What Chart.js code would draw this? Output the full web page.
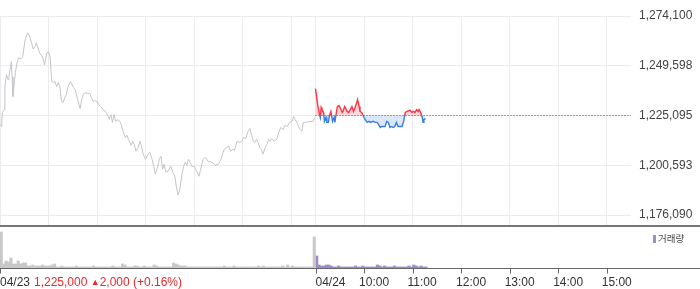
<!DOCTYPE html>
<html>
<head>
<meta charset="utf-8">
<script src="https://cdn.jsdelivr.net/npm/chart.js@4.4.1/dist/chart.umd.min.js"></script>
<style>
  html, body { margin: 0; padding: 0; background: #fff; }
  #wrap { position: relative; width: 700px; height: 289px; overflow: hidden; font-family: "Liberation Sans", Arial, sans-serif; }
  #pricebox { position: absolute; left: 0; top: 0; width: 700px; height: 225px; }
  #sep { position: absolute; left: 0; top: 225px; width: 700px; height: 2px; background: #777; }
  #volbox { position: absolute; left: 0; top: 227px; width: 700px; height: 62px; }
  #quote { position: absolute; left: 34px; top: 275px; font-size: 12px; line-height: 15px; color: #e8282b; white-space: nowrap; }
  #quote .tri { font-size: 9px; position: relative; top: -1px; }
  #vlegend { position: absolute; left: 653px; top: 231px; font-family: "Noto Sans CJK KR", sans-serif; font-size: 9.5px; line-height: 14px; color: #444; }
  #vlegend .sw { display: inline-block; width: 3px; height: 8px; background: #9d8cc9; margin-right: 2px; vertical-align: -1px; }
</style>
</head>
<body>
<div id="wrap">
  <div id="pricebox"><canvas id="price" width="700" height="225"></canvas></div>
  <div id="sep"></div>
  <div id="volbox"><canvas id="vol" width="700" height="62"></canvas></div>
  <div id="quote"></div>
  <div id="vlegend"><span class="sw"></span><span id="vlabel"></span></div>
</div>
<script>
// minutes counted from 04/23 09:00; 04/24 09:00 = 390
const day1Times = [
  0, 2, 3, 5, 6, 8, 10, 11, 14, 15,
  16, 19, 21, 23, 26, 28, 31, 34, 36, 39,
  41, 43, 45, 47, 49, 53, 55, 58, 60, 62,
  64, 66, 68, 70, 72, 74, 76, 78, 80, 82,
  84, 87, 89, 91, 93, 96, 99, 101, 103, 105,
  108, 111, 113, 115, 117, 120, 122, 124, 128, 131,
  134, 135, 137, 139, 141, 143, 146, 149, 152, 155,
  157, 159, 162, 164, 166, 168, 171, 173, 175, 177,
  180, 183, 185, 188, 190, 192, 194, 197, 199, 201,
  203, 205, 208, 211, 213, 216, 218, 220, 222, 225,
  227, 229, 231, 233, 235, 237, 240, 243, 246, 248,
  251, 254, 257, 262, 266, 270, 273, 277, 280, 283,
  285, 288, 290, 293, 296, 299, 301, 304, 306, 309,
  311, 313, 315, 317, 319, 321, 323, 325, 328, 330,
  332, 334, 336, 339, 342, 345, 347, 350, 352, 355,
  358, 361, 363, 365, 367, 369, 371, 373, 375, 378,
  383, 387, 389
];
const day1Prices = [
  1220700, 1219700, 1226600, 1228000, 1239300, 1245200, 1242700, 1244200, 1251600, 1244200,
  1234400, 1246200, 1251100, 1253500, 1253000, 1254000, 1262300, 1265800, 1264800, 1260900,
  1257900, 1258900, 1260900, 1258400, 1256000, 1253500, 1250100, 1256000, 1256500, 1254000,
  1241800, 1241300, 1241800, 1239300, 1241300, 1239300, 1232000, 1231500, 1233900, 1235400,
  1239300, 1241800, 1240300, 1238800, 1237800, 1232900, 1228500, 1232900, 1235400, 1236400,
  1235900, 1235900, 1233900, 1232000, 1232500, 1232000, 1230500, 1229500, 1228000, 1226600,
  1224600, 1223100, 1225600, 1221700, 1225600, 1222200, 1223100, 1221700, 1217300, 1214300,
  1215300, 1213300, 1210400, 1212400, 1210900, 1207500, 1209400, 1212400, 1209900, 1206000,
  1203500, 1206000, 1207000, 1203500, 1200100, 1196200, 1198600, 1203500, 1205000, 1198600,
  1201100, 1197200, 1197700, 1200100, 1197700, 1195200, 1190300, 1185900, 1187900, 1196200,
  1200100, 1202100, 1200600, 1203500, 1202100, 1200100, 1200100, 1197700, 1195200, 1198600,
  1203500, 1204500, 1202600, 1202100, 1200600, 1201100, 1203500, 1208400, 1209400, 1209900,
  1207500, 1208400, 1208000, 1212400, 1211900, 1212400, 1214300, 1213800, 1216800, 1218700,
  1215300, 1212400, 1211900, 1213300, 1211900, 1209400, 1208400, 1206000, 1209400, 1210900,
  1213300, 1212400, 1213800, 1212400, 1213300, 1217300, 1219200, 1218200, 1220200, 1219700,
  1221700, 1222200, 1224600, 1223100, 1221700, 1219700, 1218200, 1217300, 1221700, 1221700,
  1222200, 1222200, 1224100
];
const day2Times = [
  390, 393, 395, 396, 397, 398, 400, 401, 403, 404,
  406, 407, 409, 410, 411, 413, 414, 415, 417, 419,
  421, 423, 424, 426, 429, 431, 433, 435, 437, 439,
  441, 442, 444, 445, 447, 449, 450, 452, 454, 456,
  458, 461, 464, 466, 468, 470, 472, 474, 476, 478,
  480, 482, 484, 486, 488, 490, 492, 494, 497, 499,
  500, 501, 503, 507, 509, 511, 513, 515, 517, 518,
  520, 522, 523, 524, 526
];
const day2Prices = [
  1238300, 1229500, 1225600, 1224100, 1229000, 1228000, 1226600, 1222200, 1224100, 1221700,
  1221700, 1224600, 1227100, 1224600, 1222200, 1224100, 1221700, 1224600, 1229500, 1230000,
  1228500, 1226600, 1227100, 1229500, 1227100, 1226600, 1228000, 1229500, 1227100, 1229000,
  1231500, 1232900, 1229500, 1227100, 1226600, 1225100, 1224100, 1222700, 1221700, 1222200,
  1221700, 1222200, 1221700, 1221700, 1220700, 1219200, 1219700, 1219700, 1219700, 1222200,
  1221700, 1219200, 1219700, 1219200, 1219700, 1221700, 1219700, 1219700, 1219700, 1222200,
  1224600, 1226600, 1227100, 1227600, 1226600, 1227100, 1226600, 1228000, 1227100, 1228000,
  1226600, 1224100, 1221700, 1223100, 1223600
];
// volume per 3-minute bucket
const day1Vol = [
  3600, 400, 700, 600, 1000, 400, 400, 700, 400, 500,
  500, 200, 200, 300, 200, 200, 200, 300, 200, 200,
  200, 300, 400, 100, 100, 200, 100, 100, 100, 100,
  100, 200, 100, 100, 100, 100, 100, 100, 200, 100,
  100, 100, 100, 100, 100, 100, 200, 100, 100, 100,
  400, 300, 100, 100, 100, 200, 200, 100, 100, 200,
  100, 100, 100, 300, 200, 100, 100, 100, 100, 100,
  100, 500, 400, 300, 200, 200, 200, 100, 100, 100,
  100, 100, 100, 100, 100, 100, 100, 100, 100, 100,
  100, 100, 200, 100, 100, 100, 200, 100, 100, 100,
  100, 100, 100, 100, 100, 100, 200, 100, 200, 100,
  100, 100, 100, 100, 100, 100, 200, 100, 300, 100,
  200, 100, 100, 100, 100, 100, 100, 100, 100, 3100
];
const day2Vol = [
  1200, 300, 200, 200, 300, 300, 200, 100, 100, 200,
  100, 100, 100, 100, 100, 100, 200, 100, 100, 200,
  100, 100, 100, 100, 100, 300, 200, 100, 200, 100,
  100, 100, 200, 100, 100, 100, 100, 100, 200, 100,
  300, 200, 100, 200, 100, 100
];
const baseline = 1225095;
const yMin = 1171165;
const yMax = 1274100;
const yTicks = [1176090, 1200593, 1225095, 1249598, 1274100];
const gridMinutes = [0, 60, 120, 180, 240, 300, 360, 390, 450, 510, 570, 630, 690, 750];
const axisMinutes = [0, 390, 450, 510, 570, 630, 690, 750];
const axisLabels = ['04/23', '04/24', '10:00', '11:00', '12:00', '13:00', '14:00', '15:00'];
const lastPrice = '1,225,000';
const change = '2,000';
const changePct = '(+0.16%)';
const volumeLabel = '거래량';

const upColor = '#ff3344';
const downColor = '#3a7ddf';
const upFill = 'rgba(255,60,80,0.2)';
const downFill = 'rgba(50,120,225,0.18)';

Chart.defaults.font.family = '"Liberation Sans", Arial, sans-serif';

// vertical gradient that switches colour exactly at the baseline pixel
function splitAt(top, bottom) {
  return (context) => {
    const chart = context.chart;
    const area = chart.chartArea;
    if (!area) return top;
    const y0 = chart.scales.y.getPixelForValue(baseline);
    const stop = Math.min(Math.max((y0 - area.top) / (area.bottom - area.top), 0), 1);
    const g = chart.ctx.createLinearGradient(0, area.top, 0, area.bottom);
    g.addColorStop(0, top);
    g.addColorStop(stop, top);
    g.addColorStop(stop, bottom);
    g.addColorStop(1, bottom);
    return g;
  };
}

const pairs = (xs, ys) => xs.map((x, i) => ({x, y: ys[i]}));

new Chart(document.getElementById('price'), {
  type: 'line',
  data: {
    datasets: [
      {data: pairs(day1Times, day1Prices), borderColor: '#c4c4ca', borderWidth: 1, pointRadius: 0, fill: false},
      {data: pairs(day2Times, day2Prices), borderColor: splitAt(upColor, downColor), borderWidth: 1.4, pointRadius: 0,
        backgroundColor: splitAt(upFill, downFill), fill: {value: baseline}},
      {data: [{x: 390, y: baseline}, {x: 780, y: baseline}], borderColor: '#555', borderWidth: 1,
        borderDash: [1, 2], pointRadius: 0, fill: false}
    ]
  },
  options: {
    responsive: false,
    animation: false,
    devicePixelRatio: 1,
    layout: {padding: {top: 16, left: 0, right: 0, bottom: 0}},
    plugins: {legend: {display: false}, tooltip: {enabled: false}, filler: {propagate: false}},
    scales: {
      x: {
        type: 'linear', min: 0, max: 780,
        afterBuildTicks: (s) => { s.ticks = gridMinutes.map((v) => ({value: v})); },
        ticks: {display: false},
        grid: {color: '#ebebeb', drawTicks: false},
        border: {display: false}
      },
      y: {
        position: 'right', min: yMin, max: yMax,
        afterBuildTicks: (s) => { s.ticks = yTicks.map((v) => ({value: v})); },
        afterFit: (s) => { s.width = 69; s.paddingTop = 0; s.paddingBottom = 0; },
        ticks: {padding: 8, color: '#444', font: {size: 12}, callback: (v) => v.toLocaleString('en-US')},
        grid: {color: '#ebebeb', drawTicks: false},
        border: {display: false}
      }
    }
  }
});

const timeAxis = {
  id: 'timeAxis',
  afterDraw(chart) {
    const {ctx, chartArea, scales: {x}} = chart;
    const yb = chartArea.bottom + 0.5;
    ctx.save();
    ctx.strokeStyle = '#666';
    ctx.lineWidth = 1;
    ctx.beginPath();
    ctx.moveTo(0, yb);
    ctx.lineTo(chart.width, yb);
    axisMinutes.forEach((m) => {
      const px = Math.round(x.getPixelForValue(m)) + 0.5;
      ctx.moveTo(px, yb);
      ctx.lineTo(px, yb + 5);
    });
    ctx.stroke();
    ctx.fillStyle = '#333';
    ctx.font = '12px "Liberation Sans", Arial, sans-serif';
    ctx.textAlign = 'left';
    ctx.textBaseline = 'middle';
    axisMinutes.forEach((m, i) => {
      const label = axisLabels[i];
      const dx = label.includes('/') ? 0 : -5;
      ctx.fillText(label, x.getPixelForValue(m) + dx, chartArea.bottom + 14.5);
    });
    ctx.restore();
  }
};

new Chart(document.getElementById('vol'), {
  type: 'bar',
  data: {
    datasets: [
      {data: day1Vol.map((v, i) => ({x: i * 3 + 1.5, y: v})), backgroundColor: '#c9c9c9', barThickness: 2.5, grouped: false},
      {data: day2Vol.map((v, j) => ({x: 390 + j * 3 + 1.5, y: v})), backgroundColor: '#9d8cc9', barThickness: 2.5, grouped: false}
    ]
  },
  options: {
    responsive: false,
    animation: false,
    devicePixelRatio: 1,
    layout: {padding: {top: 0, left: 0, right: 69, bottom: 21}},
    plugins: {legend: {display: false}, tooltip: {enabled: false}},
    scales: {
      x: {type: 'linear', min: 0, max: 780, offset: false, display: false},
      y: {min: 0, max: 4100, display: false}
    }
  },
  plugins: [timeAxis]
});

document.getElementById('quote').innerHTML =
  lastPrice + ' <span class="tri">▲</span>' + change + ' ' + changePct;
document.getElementById('vlabel').textContent = volumeLabel;
</script>
</body>
</html>
